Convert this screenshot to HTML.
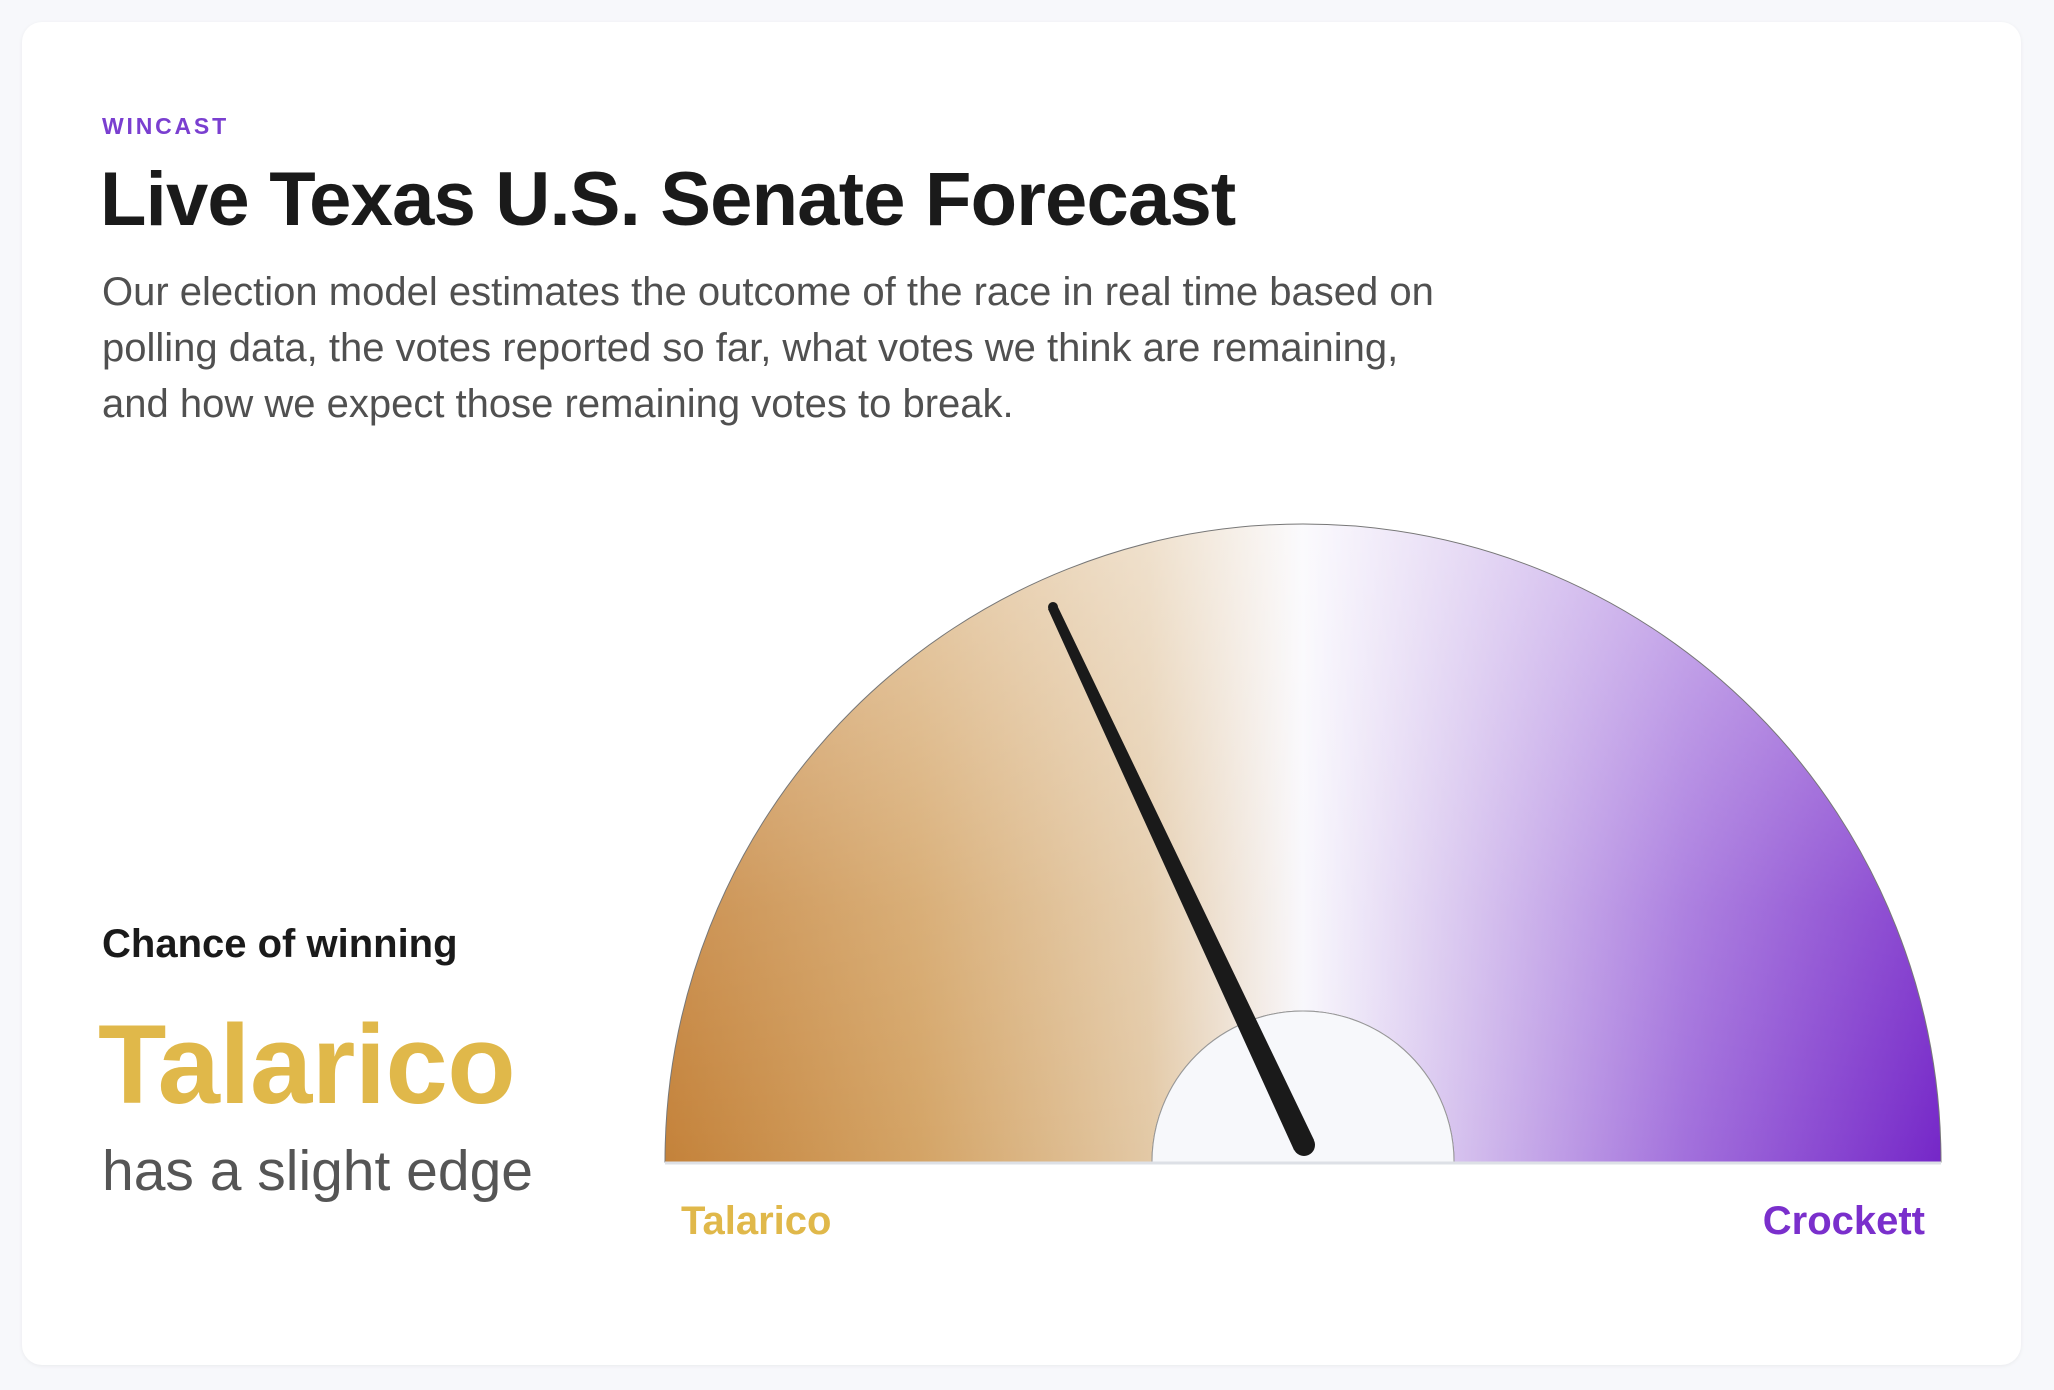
<!DOCTYPE html>
<html><head><meta charset="utf-8">
<style>
html,body{margin:0;padding:0;background:#f7f8fb;}
body{width:2054px;height:1390px;position:relative;overflow:hidden;font-family:"Liberation Sans",sans-serif;}
.card{position:absolute;left:22px;top:22px;width:1999px;height:1343px;background:#fff;border-radius:20px;box-shadow:0 1px 4px rgba(0,0,0,0.06);}
.t{position:absolute;white-space:nowrap;}
</style></head><body>
<div class="card"></div>
<div class="t" style="left:102px;top:113px;font-size:23px;font-weight:bold;letter-spacing:2.8px;color:#7a3fd0;">WINCAST</div>
<div class="t" style="left:100px;top:156px;font-size:76px;font-weight:bold;letter-spacing:-0.8px;color:#1a1a1a;">Live Texas U.S. Senate Forecast</div>
<div class="t" style="left:102px;top:264px;font-size:40px;line-height:56px;color:#505050;">Our election model estimates the outcome of the race in real time based on<br>polling data, the votes reported so far, what votes we think are remaining,<br>and how we expect those remaining votes to break.</div>
<div class="t" style="left:102px;top:922px;font-size:40px;font-weight:bold;color:#1a1a1a;">Chance of winning</div>
<div class="t" style="left:98px;top:1000px;font-size:112px;font-weight:bold;color:#e0b84a;letter-spacing:-0.5px;">Talarico</div>
<div class="t" style="left:102px;top:1138px;font-size:57px;color:#555;">has a slight edge</div>
<svg width="2054" height="1390" style="position:absolute;left:0;top:0">
<defs>
<linearGradient id="g" x1="665" y1="0" x2="1941" y2="0" gradientUnits="userSpaceOnUse">
<stop offset="0" stop-color="#c4823a"/>
<stop offset="0.2" stop-color="#d4a466"/>
<stop offset="0.38" stop-color="#e3c9a6"/>
<stop offset="0.5" stop-color="#f8f7fc"/>
<stop offset="0.62" stop-color="#d6c2ee"/>
<stop offset="0.8" stop-color="#a270dc"/>
<stop offset="1" stop-color="#7527c8"/>
</linearGradient>
<linearGradient id="v" x1="0" y1="524" x2="0" y2="1162" gradientUnits="userSpaceOnUse">
<stop offset="0" stop-color="#fff" stop-opacity="0.45"/>
<stop offset="0.6" stop-color="#fff" stop-opacity="0.12"/>
<stop offset="1" stop-color="#fff" stop-opacity="0"/>
</linearGradient>
</defs>
<path d="M665 1162 A638 638 0 0 1 1941 1162 L1454 1162 A151 151 0 0 0 1152 1162 Z" fill="url(#g)"/>
<path d="M665 1162 A638 638 0 0 1 1941 1162 L1454 1162 A151 151 0 0 0 1152 1162 Z" fill="url(#v)" stroke="#777" stroke-width="1"/>
<path d="M1152 1162 A151 151 0 0 1 1454 1162 Z" fill="#f7f8fb" stroke="#999" stroke-width="1"/>
<line x1="665" y1="1163" x2="1941" y2="1163" stroke="#dde0e6" stroke-width="3"/>
<polygon points="1048,609 1057,605 1314,1140 1294,1150" fill="#1a1a1a"/>
<circle cx="1304" cy="1145" r="11" fill="#1a1a1a"/>
<circle cx="1053" cy="607" r="5" fill="#1a1a1a"/>
</svg>
<div class="t" style="left:681px;top:1199px;font-size:40px;font-weight:bold;color:#e0b84a;">Talarico</div>
<div class="t" style="right:129px;top:1199px;font-size:40px;font-weight:bold;color:#7a2fcc;">Crockett</div>
</body></html>
